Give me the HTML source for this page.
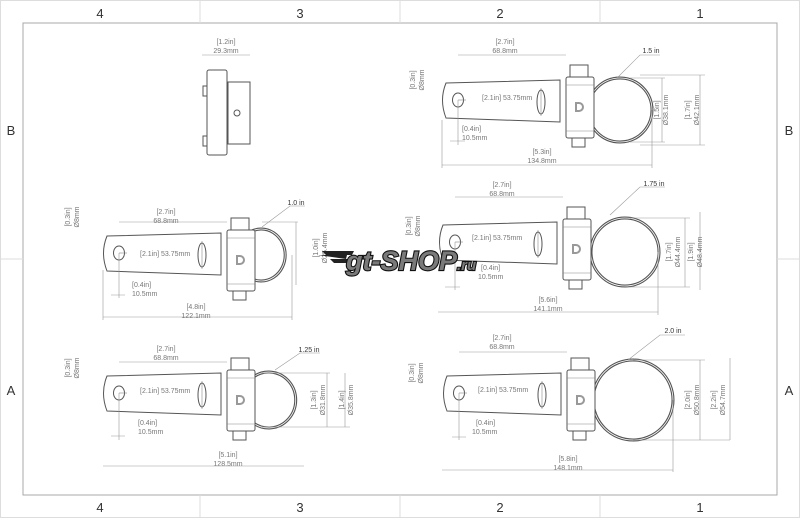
<!DOCTYPE html>
<html><head><meta charset="utf-8"><style>
html,body{margin:0;padding:0;background:#fff;}
svg{display:block}
text{font-family:"Liberation Sans",sans-serif;fill:#777;font-size:7px}
.z{font-size:13px;fill:#333}
</style></head><body>
<svg width="800" height="518" viewBox="0 0 800 518" xmlns="http://www.w3.org/2000/svg">
<defs>
<g id="clamp">
  <path d="M-120,-17 L-6,-20 L-6,22 L-120,18 Q-127,0 -120,-17 Z" fill="#fff" stroke="#555" stroke-width="1"/>
  <ellipse cx="-108" cy="0" rx="5.5" ry="7" fill="#fff" stroke="#555"/>
  <ellipse cx="-25" cy="2" rx="4" ry="12" fill="#fff" stroke="#555"/>
  <line x1="-108" y1="0" x2="-100" y2="0" stroke="#888" stroke-width="0.6"/>
  <line x1="-25" y1="-12" x2="-25" y2="16" stroke="#888" stroke-width="0.6"/>
  <rect x="4" y="-35" width="18" height="12" fill="#fff" stroke="#555"/>
  <rect x="6" y="38" width="13" height="9" fill="#fff" stroke="#555"/>
  <rect x="0" y="-23" width="28" height="61" rx="2" fill="#fff" stroke="#555"/>
  <line x1="0" y1="-15" x2="28" y2="-15" stroke="#888" stroke-width="0.6"/>
  <line x1="0" y1="31" x2="28" y2="31" stroke="#888" stroke-width="0.6"/>
  <path d="M10,3 h3 a4,4 0 0 1 0,8 h-3 z" fill="none" stroke="#999" stroke-width="2"/>
</g>
</defs>
<rect x="0.5" y="0.5" width="799" height="517" fill="#fff" stroke="#ddd"/>
<rect x="23" y="23" width="754" height="472" fill="none" stroke="#aaa"/>
<g stroke="#ddd"><line x1="200" y1="0" x2="200" y2="23"/><line x1="400" y1="0" x2="400" y2="23"/><line x1="600" y1="0" x2="600" y2="23"/>
<line x1="200" y1="495" x2="200" y2="518"/><line x1="400" y1="495" x2="400" y2="518"/><line x1="600" y1="495" x2="600" y2="518"/>
<line x1="0" y1="259" x2="23" y2="259"/><line x1="777" y1="259" x2="800" y2="259"/></g>
<g class="z" text-anchor="middle"><text class="z" x="100" y="18">4</text><text class="z" x="300" y="18">3</text><text class="z" x="500" y="18">2</text><text class="z" x="700" y="18">1</text>
<text class="z" x="100" y="512">4</text><text class="z" x="300" y="512">3</text><text class="z" x="500" y="512">2</text><text class="z" x="700" y="512">1</text>
<text class="z" x="11" y="135">B</text><text class="z" x="789" y="135">B</text><text class="z" x="11" y="395">A</text><text class="z" x="789" y="395">A</text></g>

<!-- top view -->
<g stroke="#555" fill="#fff">
<line x1="202" y1="55" x2="250" y2="55" stroke="#999" stroke-width="0.6"/>
<rect x="228" y="82" width="22" height="62"/>
<rect x="207" y="70" width="20" height="85" rx="2"/>
<rect x="203" y="86" width="4" height="10"/><rect x="203" y="136" width="4" height="10"/>
<circle cx="237" cy="113" r="3"/>
</g>
<text x="226" y="44" text-anchor="middle">[1.2in]</text><text x="226" y="53" text-anchor="middle">29.3mm</text>

<!-- ring clamps -->
<g stroke="#555" stroke-width="3" fill="#fff">
<circle cx="620" cy="110" r="32"/>
<path d="M250,232 A24,26 0 1 1 250,278" />
<circle cx="625" cy="252" r="34"/>
<path d="M252,378 A27,28 0 1 1 252,422"/>
<circle cx="633" cy="400" r="40"/>
</g>
<g stroke="#fff" stroke-width="0.8" fill="none">
<circle cx="620" cy="110" r="32"/>
<path d="M250,232 A24,26 0 1 1 250,278" />
<circle cx="625" cy="252" r="34"/>
<path d="M252,378 A27,28 0 1 1 252,422"/>
<circle cx="633" cy="400" r="40"/>
</g>
<use href="#clamp" x="566" y="100"/>
<use href="#clamp" x="227" y="253"/>
<use href="#clamp" x="563" y="242"/>
<use href="#clamp" x="227" y="393"/>
<use href="#clamp" x="567" y="393"/>

<!-- dims -->
<g stroke="#999" stroke-width="0.6" fill="none">
<path d="M458,55 H566 M442,165 H652 M450,141 H465 M458,100 V145 M442,120 V168 M652,110 V168 M630,78 H665 M630,142 H665 M662,78 V142 M640,75 H705 M640,145 H705 M700,75 V145 M617,78 L640,55 H660"/>
<path d="M119,222 H227 M103,317 H292 M111,295 H125 M119,253 V298 M103,270 V320 M292,255 V320 M262,222 H298 M296,222 V285"/>
<path d="M262,227 L290,206 H305"/>
<path d="M455,197 H563 M438,312 H658 M445,287 H460 M455,242 V290 M658,252 V315 M630,218 H690 M630,287 H690 M685,218 V287 M700,212 V290 M610,215 L640,187 H665"/>
<path d="M119,362 H227 M103,466 H304 M111,436 H125 M119,393 V440 M262,373 H330 M262,427 H350 M327,373 V427 M345,373 V427 M275,370 L300,353 H320"/>
<path d="M459,352 H567 M442,470 H673 M452,437 H466 M459,393 V440 M673,400 V472 M633,360 H705 M633,440 H730 M700,360 V440 M730,358 V440 M628,360 L660,335 H685"/>
</g>
<g text-anchor="middle">
<text x="505" y="44">[2.7in]</text><text x="505" y="53">68.8mm</text>
<text x="482" y="100" text-anchor="start">[2.1in] 53.75mm</text>
<text x="462" y="131" text-anchor="start">[0.4in]</text><text x="462" y="140" text-anchor="start">10.5mm</text>
<text x="542" y="154">[5.3in]</text><text x="542" y="163">134.8mm</text>
<text x="651" y="53" style="fill:#333">1.5 in</text>
<text transform="translate(415,80) rotate(-90)">[0.3in]</text><text transform="translate(424,80) rotate(-90)">Ø8mm</text>
<text transform="translate(659,110) rotate(-90)">[1.5in]</text><text transform="translate(668,110) rotate(-90)">Ø38.1mm</text>
<text transform="translate(690,110) rotate(-90)">[1.7in]</text><text transform="translate(699,110) rotate(-90)">Ø42.1mm</text>

<text x="166" y="214">[2.7in]</text><text x="166" y="223">68.8mm</text>
<text x="140" y="256" text-anchor="start">[2.1in] 53.75mm</text>
<text x="132" y="287" text-anchor="start">[0.4in]</text><text x="132" y="296" text-anchor="start">10.5mm</text>
<text x="196" y="309">[4.8in]</text><text x="196" y="318">122.1mm</text>
<text x="296" y="205" style="fill:#333">1.0 in</text>
<text transform="translate(70,217) rotate(-90)">[0.3in]</text><text transform="translate(79,217) rotate(-90)">Ø8mm</text>
<text transform="translate(318,248) rotate(-90)">[1.0in]</text><text transform="translate(327,248) rotate(-90)">Ø25.4mm</text>

<text x="502" y="187">[2.7in]</text><text x="502" y="196">68.8mm</text>
<text x="472" y="240" text-anchor="start">[2.1in] 53.75mm</text>
<text x="481" y="270" text-anchor="start">[0.4in]</text><text x="478" y="279" text-anchor="start">10.5mm</text>
<text x="548" y="302">[5.6in]</text><text x="548" y="311">141.1mm</text>
<text x="654" y="186" style="fill:#333">1.75 in</text>
<text transform="translate(411,226) rotate(-90)">[0.3in]</text><text transform="translate(420,226) rotate(-90)">Ø8mm</text>
<text transform="translate(671,252) rotate(-90)">[1.7in]</text><text transform="translate(680,252) rotate(-90)">Ø44.4mm</text>
<text transform="translate(693,252) rotate(-90)">[1.9in]</text><text transform="translate(702,252) rotate(-90)">Ø48.4mm</text>

<text x="166" y="351">[2.7in]</text><text x="166" y="360">68.8mm</text>
<text x="140" y="393" text-anchor="start">[2.1in] 53.75mm</text>
<text x="138" y="425" text-anchor="start">[0.4in]</text><text x="138" y="434" text-anchor="start">10.5mm</text>
<text x="228" y="457">[5.1in]</text><text x="228" y="466">128.5mm</text>
<text x="309" y="352" style="fill:#333">1.25 in</text>
<text transform="translate(70,368) rotate(-90)">[0.3in]</text><text transform="translate(79,368) rotate(-90)">Ø8mm</text>
<text transform="translate(316,400) rotate(-90)">[1.3in]</text><text transform="translate(325,400) rotate(-90)">Ø31.8mm</text>
<text transform="translate(344,400) rotate(-90)">[1.4in]</text><text transform="translate(353,400) rotate(-90)">Ø35.8mm</text>

<text x="502" y="340">[2.7in]</text><text x="502" y="349">68.8mm</text>
<text x="478" y="392" text-anchor="start">[2.1in] 53.75mm</text>
<text x="476" y="425" text-anchor="start">[0.4in]</text><text x="472" y="434" text-anchor="start">10.5mm</text>
<text x="568" y="461">[5.8in]</text><text x="568" y="470">148.1mm</text>
<text x="673" y="333" style="fill:#333">2.0 in</text>
<text transform="translate(414,373) rotate(-90)">[0.3in]</text><text transform="translate(423,373) rotate(-90)">Ø8mm</text>
<text transform="translate(690,400) rotate(-90)">[2.0in]</text><text transform="translate(699,400) rotate(-90)">Ø50.8mm</text>
<text transform="translate(716,400) rotate(-90)">[2.2in]</text><text transform="translate(725,400) rotate(-90)">Ø54.7mm</text>
</g>

<!-- watermark -->
<g>
<path d="M322,251 L354,251 L352,255 L326,255 Z M330,259 L352,259 L351,263 L334,263 Z M318,255 L347,255 L346,259 Z" fill="#222"/>
<text x="346" y="270" style="font-size:27px;font-weight:bold;font-style:italic;fill:#7a7a7a;stroke:#111;stroke-width:2.2;paint-order:stroke">gt-SHOP<tspan style="font-size:15px">.ru</tspan></text>
</g>
</svg>
</body></html>
